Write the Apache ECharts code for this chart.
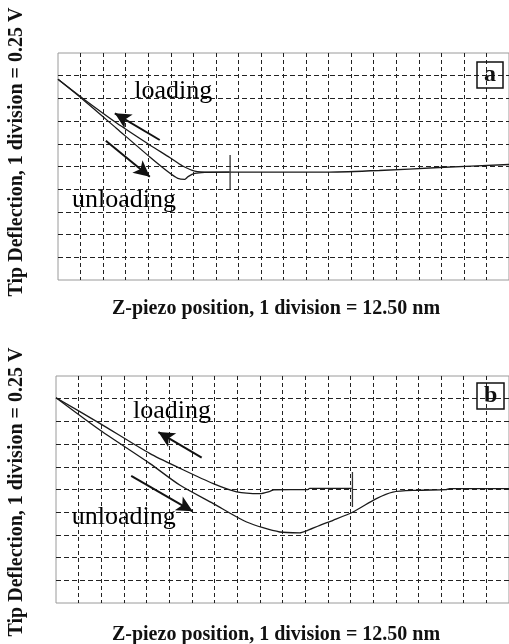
<!DOCTYPE html>
<html>
<head>
<meta charset="utf-8">
<script src="https://cdn.jsdelivr.net/npm/echarts/dist/echarts.min.js"></script>
<style>
    html, body {margin: 0; padding: 0; background: #fff;}
    #chart_main {width: 509px; height: 644px;}
</style>
</head>
<body>
<div id="chart_main"></div>
<script>
// axes: 1 division = 12.5 nm (x), 0.25 V (y); 20 x 10 divisions per panel
const xMax = 250, xStep = 12.5;
const yMax = 2.5, yStep = 0.25;

// panel a, [z nm, deflection V]
const loadingA = [[0, 2.21], [13.8, 1.999], [32.5, 1.729], [50.9, 1.487], [61.9, 1.349], [69.1, 1.256],
    [75.8, 1.2], [84.1, 1.189], [95.1, 1.189], [150.4, 1.189], [178.1, 1.206], [211.3, 1.239], [250, 1.272]];
const unloadingA = [[0, 2.21], [13.8, 1.988], [32.5, 1.669], [50.9, 1.355], [61.9, 1.178], [66.4, 1.12],
    [70.3, 1.109], [72.1, 1.138], [75.8, 1.173], [81.3, 1.186], [95.1, 1.189]];
const markerA = [[95.4, 1.377], [95.4, 1.002]];

// panel b
const loadingB = [[0, 2.26], [24.4, 1.976], [51.9, 1.645], [68.5, 1.483], [86.8, 1.315], [99.7, 1.225],
    [112.5, 1.205], [118, 1.23], [120.2, 1.247], [138.9, 1.249], [140, 1.263], [163.2, 1.263]];
const unloadingB = [[0, 2.26], [24.4, 1.902], [51.9, 1.535], [68.5, 1.296], [86.8, 1.095], [105.2, 0.892],
    [123.5, 0.782], [134.5, 0.773], [138.2, 0.795], [145.6, 0.856], [152.9, 0.911], [163.9, 1.002],
    [176.8, 1.15], [185.9, 1.222], [198.8, 1.241], [215.3, 1.249], [217.1, 1.26], [250, 1.26]];
const markerB = [[163.6, 1.443], [163.6, 1.057]];

// annotations: text labels [x, y, text] and arrows [from, to]
const labelsA = [[64.2, 2.07, 'loading'], [36.9, 0.87, 'unloading']];
const labelsB = [[64.3, 2.111, 'loading'], [37.7, 0.938, 'unloading']];
const arrowsA = [[[56.4, 1.542], [31.5, 1.836]], [[26.5, 1.534], [50.9, 1.138]]];
const arrowsB = [[[80.4, 1.601], [56.5, 1.883]], [[41.5, 1.399], [75.4, 1.01]]];

const xTitle = 'Z-piezo position, 1 division = 12.50 nm';
const yTitle = 'Tip Deflection, 1 division = 0.25 V';

const SERIF = '"Liberation Serif", "DejaVu Serif", serif';
const INK = '#111';

let myChart = echarts.init(document.getElementById('chart_main'), null, {renderer: 'canvas'});

function makeX(idx) {
    return {
        gridIndex: idx, type: 'value', min: 0, max: xMax, interval: xStep,
        axisLine: {show: false}, axisTick: {show: false}, axisLabel: {show: false},
        splitLine: {show: true, showMinLine: false, showMaxLine: false,
            lineStyle: {color: '#222', width: 1, type: [4, 3]}}
    };
}
function makeY(idx) {
    return {
        gridIndex: idx, type: 'value', min: 0, max: yMax, interval: yStep,
        axisLine: {show: false}, axisTick: {show: false}, axisLabel: {show: false},
        splitLine: {show: true, showMinLine: false, showMaxLine: false,
            lineStyle: {color: '#222', width: 1, type: [5, 3]}}
    };
}
function curve(idx, data) {
    return {
        type: 'line', xAxisIndex: idx, yAxisIndex: idx, data: data,
        showSymbol: false, symbol: 'none', smooth: 0.25,
        lineStyle: {color: '#1a1a1a', width: 1.3}
    };
}
function marker(idx, data) {
    return {
        type: 'line', xAxisIndex: idx, yAxisIndex: idx, data: data,
        showSymbol: false, symbol: 'none', lineStyle: {color: '#333', width: 1.3}
    };
}
function texts(idx, data) {
    return {
        type: 'scatter', xAxisIndex: idx, yAxisIndex: idx, data: data,
        symbol: 'circle', symbolSize: 1, itemStyle: {color: 'rgba(0,0,0,0)'}, z: 5,
        label: {
            show: true, position: [0, 0], align: 'center', verticalAlign: 'middle',
            formatter: function (p) { return p.value[2]; },
            fontFamily: SERIF, fontSize: 26, color: '#000', opacity: 1
        }
    };
}
function arrows(idx, data) {
    return {
        type: 'line', xAxisIndex: idx, yAxisIndex: idx, data: [],
        markLine: {
            silent: true, symbol: ['none', 'arrow'], symbolSize: [12, 16],
            label: {show: false},
            lineStyle: {color: INK, width: 2, type: 'solid'},
            data: data.map(function (a) { return [{coord: a[0]}, {coord: a[1]}]; })
        }
    };
}
function boxTitle(text, top) {
    return {
        text: text, left: 477, top: top, padding: [1, 7, 1, 7],
        borderColor: INK, borderWidth: 1.5,
        textStyle: {fontFamily: SERIF, fontWeight: 'bold', fontSize: 24, lineHeight: 24, color: INK}
    };
}
function rotText(text, x, y) {
    return {
        type: 'text', x: x, y: y, rotation: Math.PI / 2,
        style: {text: text, font: 'bold 20px ' + SERIF, fill: INK, align: 'center', verticalAlign: 'middle'}
    };
}
function flatText(text, x, y) {
    return {
        type: 'text', x: x, y: y,
        style: {text: text, font: 'bold 20px ' + SERIF, fill: INK, align: 'center', verticalAlign: 'middle'}
    };
}

let option = {
    animation: false,
    backgroundColor: '#fff',
    title: [boxTitle('a', 62), boxTitle('b', 383)],
    grid: [
        {left: 58, top: 53, width: 452, height: 227, show: true, borderColor: '#9a9a9a', borderWidth: 1},
        {left: 56, top: 376, width: 454, height: 227, show: true, borderColor: '#9a9a9a', borderWidth: 1}
    ],
    xAxis: [makeX(0), makeX(1)],
    yAxis: [makeY(0), makeY(1)],
    series: [
        curve(0, loadingA), curve(0, unloadingA), marker(0, markerA), texts(0, labelsA), arrows(0, arrowsA),
        curve(1, loadingB), curve(1, unloadingB), marker(1, markerB), texts(1, labelsB), arrows(1, arrowsB)
    ],
    graphic: [
        rotText(yTitle, 17, 152), rotText(yTitle, 17, 492),
        flatText(xTitle, 276, 309), flatText(xTitle, 276, 635)
    ]
};
myChart.setOption(option);
</script>
</body>
</html>
